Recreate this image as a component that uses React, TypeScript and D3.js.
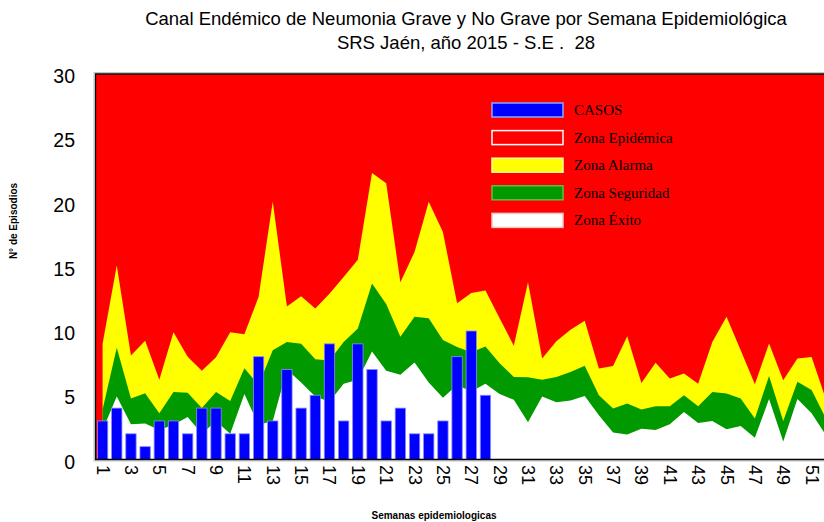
import { useEffect, useRef } from "react";
import * as d3 from "d3";

const WIDTH = 824;
const HEIGHT = 522;

const titleLines = [
  "Canal Endémico de Neumonia Grave y No Grave por Semana Epidemiológica",
  "SRS Jaén, año 2015 - S.E .  28",
];

// semanas epidemiologicas 1..52
const weeks = d3.range(1, 53);

// casos notificados hasta la S.E. 28
const casos = [3, 4, 2, 1, 3, 3, 2, 4, 4, 2, 2, 8, 3, 7, 4, 5, 9, 3, 9, 7, 3, 4, 2, 2, 3, 8, 10, 5];

// limite superior de cada zona (el resto hasta 30 es zona epidemica)
const zonaExito = [
  2.3, 4.9, 2.75, 2.8, 2.3, 2.7, 3.3, 2.0, 3.0, 2.0, 5.1, 2.7, 3.0, 7.0, 6.0, 4.9, 4.5, 5.9, 6.2, 8.4,
  6.9, 6.6, 7.55, 6.0, 4.8, 5.8, 5.3, 5.9, 5.1, 4.65, 2.9, 4.9, 4.45, 4.6, 4.95, 3.45, 2.1, 1.95, 2.4, 2.3,
  2.75, 3.7, 2.85, 3.0, 2.35, 2.6, 1.7, 4.7, 1.4, 4.7, 3.6, 1.9,
];
const zonaSeguridad = [
  3.9, 8.7, 4.75, 5.15, 3.6, 5.25, 5.2, 4.0, 5.25, 4.55, 7.1, 5.8, 8.5, 9.15, 9.0, 7.8, 7.7, 9.15, 10.2, 13.7,
  12.1, 9.55, 11.1, 11.0, 9.3, 8.75, 8.35, 8.8, 7.5, 6.43, 6.4, 6.2, 6.43, 6.8, 7.3, 5.0, 3.97, 4.36, 3.9, 4.15,
  4.15, 5.0, 4.15, 5.25, 5.13, 4.75, 3.2, 6.5, 3.0, 6.05, 5.4, 3.2,
];
const zonaAlarma = [
  9.0, 15.1, 8.1, 9.25, 6.2, 9.9, 8.0, 6.9, 7.95, 9.9, 9.75, 12.65, 20.05, 11.9, 12.7, 11.75, 12.9, 14.2, 15.55, 22.3,
  21.5, 13.8, 16.15, 20.05, 17.7, 12.15, 12.95, 13.15, 11.0, 8.85, 13.8, 7.86, 9.2, 10.1, 10.8, 7.08, 7.28, 9.6, 5.96, 7.52,
  6.3, 6.7, 5.9, 9.15, 11.1, 8.5, 5.86, 9.03, 6.17, 7.86, 7.98, 4.7,
];

const yTicks = [0, 5, 10, 15, 20, 25, 30];
const xTickLabels = [1, 3, 5, 7, 9, 11, 13, 15, 17, 19, 21, 23, 25, 27, 29, 31, 33, 35, 37, 39, 41, 43, 45, 47, 49, 51];

const legendLabels = ["CASOS", "Zona Epidémica", "Zona Alarma", "Zona Seguridad", "Zona Éxito"];
const legendFill = ["#0000ff", "#ff0000", "#ffff00", "#009900", "#ffffff"];
const legendStroke = ["#8fa6ff", "#ffffff", "#ffff99", "#66bb44", "#f0c8c8"];

export default function App() {
  const svgRef = useRef<SVGSVGElement>(null);

  useEffect(() => {
    const svg = d3.select(svgRef.current!);
    svg.selectAll("*").remove();

    const left = 95.5;
    const top = 74;
    const bottom = 459.5;
    const step = 14.18;
    const sans = "'Liberation Sans', Arial, sans-serif";

    const x = d3
      .scaleBand<number>()
      .domain(weeks)
      .range([left, left + step * weeks.length])
      .paddingInner(0.27)
      .paddingOuter(0.135);
    const xc = (w: number) => x(w)! + x.bandwidth() / 2;
    const y = d3.scaleLinear().domain([0, 30]).range([bottom, top]);

    // grey shadow line around the plot
    svg
      .append("rect")
      .attr("x", left - 1.5)
      .attr("y", top - 1.5)
      .attr("width", WIDTH)
      .attr("height", bottom - top + 3)
      .attr("fill", "none")
      .attr("stroke", "#c4c4c4");

    // zona epidemica = fondo del grafico
    svg
      .append("rect")
      .attr("x", left)
      .attr("y", top)
      .attr("width", WIDTH - left)
      .attr("height", bottom - top)
      .attr("fill", "#ff0000");

    const zones = [
      { values: zonaAlarma, color: "#ffff00" },
      { values: zonaSeguridad, color: "#009900" },
      { values: zonaExito, color: "#ffffff" },
    ];
    const area = d3
      .area<number>()
      .x((_, i) => xc(weeks[i]))
      .y0(y(0))
      .y1((d) => y(d));
    for (const z of zones) {
      svg.append("path").attr("d", area(z.values)).attr("fill", z.color);
    }

    // casos
    svg
      .selectAll(".bar")
      .data(casos)
      .join("rect")
      .attr("class", "bar")
      .attr("x", (_, i) => x(weeks[i])!)
      .attr("y", (d) => y(d))
      .attr("width", x.bandwidth())
      .attr("height", (d) => y(0) - y(d))
      .attr("fill", "#0000ff")
      .attr("stroke", "#8a8aff")
      .attr("stroke-width", 0.8);

    // frame
    svg
      .append("path")
      .attr("d", `M${WIDTH},${top}H${left}V${bottom}H${WIDTH}`)
      .attr("fill", "none")
      .attr("stroke", "#000")
      .attr("stroke-width", 1.3);

    // y axis labels
    svg
      .selectAll(".ytick")
      .data(yTicks)
      .join("text")
      .attr("class", "ytick")
      .attr("x", 75)
      .attr("y", (d) => y(d) + 2)
      .attr("text-anchor", "end")
      .attr("dominant-baseline", "central")
      .attr("font-family", sans)
      .attr("font-size", 19.5)
      .attr("fill", "#000")
      .text((d) => d);

    // x axis labels, rotated
    svg
      .selectAll(".xtick")
      .data(xTickLabels)
      .join("text")
      .attr("class", "xtick")
      .attr("transform", (d) => `translate(${xc(d)},${465}) rotate(90)`)
      .attr("text-anchor", "start")
      .attr("dominant-baseline", "central")
      .attr("font-family", sans)
      .attr("font-size", 18)
      .attr("fill", "#000")
      .text((d) => d);

    svg
      .append("text")
      .attr("x", 434)
      .attr("y", 519)
      .attr("text-anchor", "middle")
      .attr("font-family", sans)
      .attr("font-size", 10)
      .attr("font-weight", "bold")
      .text("Semanas epidemiologicas");

    svg
      .append("text")
      .attr("transform", `translate(17,221) rotate(-90)`)
      .attr("text-anchor", "middle")
      .attr("font-family", sans)
      .attr("font-size", 10)
      .attr("font-weight", "bold")
      .text("N° de Episodios");

    // title
    svg
      .selectAll(".title")
      .data(titleLines)
      .join("text")
      .attr("class", "title")
      .attr("x", 466)
      .attr("y", (_, i) => 25 + i * 24)
      .attr("text-anchor", "middle")
      .attr("font-family", sans)
      .attr("font-size", 18.5)
      .style("white-space", "pre")
      .text((d) => d);

    // legend
    const legend = svg.append("g").attr("transform", "translate(492,110)");
    legendLabels.forEach((label, i) => {
      const row = legend.append("g").attr("transform", `translate(0,${i * 27.6})`);
      row
        .append("rect")
        .attr("x", 0)
        .attr("y", -7)
        .attr("width", 71)
        .attr("height", 14)
        .attr("fill", legendFill[i])
        .attr("stroke", legendStroke[i])
        .attr("stroke-width", 1.5);
      row
        .append("text")
        .attr("x", 82)
        .attr("y", 5)
        .attr("font-family", "'Liberation Serif', 'Times New Roman', serif")
        .attr("font-size", 15)
        .attr("fill", "#000")
        .text(label);
    });

    return () => {
      svg.selectAll("*").remove();
    };
  }, []);

  return (
    <svg
      ref={svgRef}
      width={WIDTH}
      height={HEIGHT}
      style={{ position: "absolute", left: 0, top: 0, background: "#fff" }}
    />
  );
}
